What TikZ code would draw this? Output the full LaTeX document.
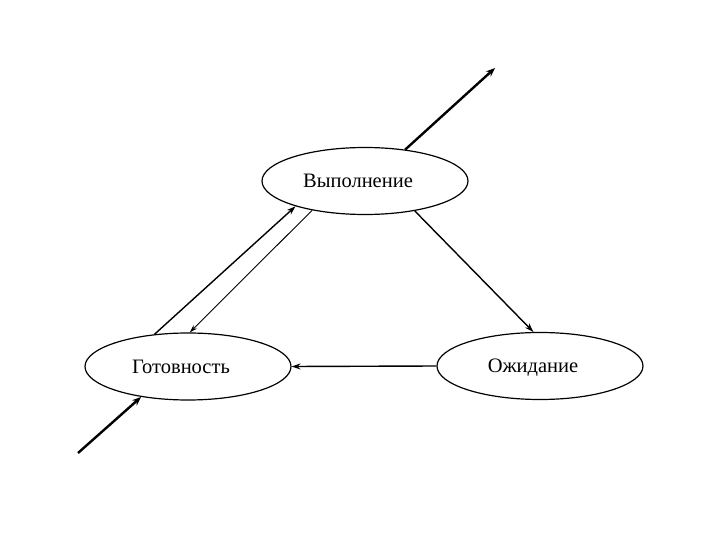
\documentclass[tikz,border=0pt]{standalone}
\usepackage{fontspec}
\setmainfont{Liberation Serif}
\usetikzlibrary{arrows.meta,shapes.geometric}
\begin{document}
\begin{tikzpicture}[x=1pt,y=-1pt,
  state/.style={draw, ellipse, minimum width=206pt, minimum height=67pt, inner sep=0pt,
    line width=1.2pt, text height=13pt, text depth=0pt, font=\fontsize{20.5}{24}\selectfont},
  bigarrow/.style={line width=2.4pt, -{Stealth[length=9pt,width=7pt]}},
  midarrow/.style={line width=1.4pt, -{Stealth[length=9pt,width=6pt]}},
  thinarrow/.style={line width=0.9pt, -{Stealth[length=8pt,width=5pt]}}]
\useasboundingbox (0,0) rectangle (720,540);
\node[state] (vyp) at (365,181) {Выполнение\hspace*{14pt}};
\node[state] (got) at (188,366.5) {Готовность\hspace*{14pt}};
\node[state] (ozh) at (540,366) {Ожидание\hspace*{14pt}};
\coordinate (exitEnd) at (495,68);
\coordinate (entryStart) at (78,453);
\draw[bigarrow] (vyp.38) -- (exitEnd);
\draw[bigarrow] (entryStart) -- (got.213);
\draw[midarrow] (got.136) -- (vyp.200);
\draw[thinarrow] (vyp.209) -- (got.87);
\draw[midarrow] (vyp.329) -- (ozh.101);
\draw[midarrow] (ozh.west) -- (got.east);
\end{tikzpicture}
\end{document}
